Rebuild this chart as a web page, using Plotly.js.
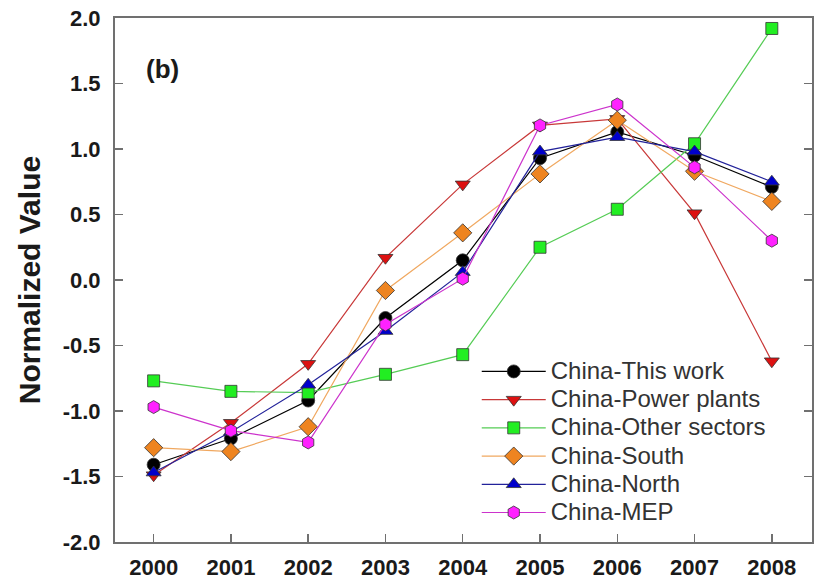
<!DOCTYPE html>
<html>
<head>
<meta charset="utf-8">
<script src="https://cdn.plot.ly/plotly-3.0.1.min.js"></script>
<style>html,body{margin:0;padding:0;background:#fff;}#chart{width:817px;height:581px;}</style>
</head>
<body>
<div id="chart"></div>
<script>
var years = [2000, 2001, 2002, 2003, 2004, 2005, 2006, 2007, 2008];
var yTicks = [-2.0, -1.5, -1.0, -0.5, 0.0, 0.5, 1.0, 1.5, 2.0];
var yTickText = ['-2.0', '-1.5', '-1.0', '-0.5', '0.0', '0.5', '1.0', '1.5', '2.0'];

var thisWork     = [-1.41, -1.21, -0.92, -0.29, 0.15, 0.93, 1.13, 0.95, 0.71];
var powerPlants  = [-1.49, -1.09, -0.64, 0.17, 0.73, 1.18, 1.23, 0.51, -0.62];
var otherSectors = [-0.77, -0.85, -0.86, -0.72, -0.57, 0.25, 0.54, 1.04, 1.92];
var south        = [-1.28, -1.31, -1.12, -0.08, 0.36, 0.81, 1.22, 0.83, 0.60];
var north        = [-1.47, -1.16, -0.80, -0.39, 0.06, 0.98, 1.09, 0.98, 0.75];
var mep          = [-0.97, -1.15, -1.24, -0.34, 0.01, 1.18, 1.34, 0.86, 0.30];

var seriesNames = ['China-This work', 'China-Power plants', 'China-Other sectors', 'China-South', 'China-North', 'China-MEP'];

function tr(name, y, lineColor, markerColor, symbol, size) {
  return {
    type: 'scatter', mode: 'lines+markers',
    name: '<span style="font-size:24px">' + name + '</span>', x: years, y: y,
    line: {color: lineColor, width: 1.2},
    marker: {symbol: symbol, size: size, color: markerColor, line: {color: '#333', width: 0.8}}
  };
}

var data = [
  tr(seriesNames[0], thisWork, '#000000', '#000000', 'circle', 13),
  tr(seriesNames[1], powerPlants, '#c83838', '#dd1111', 'triangle-down', 13),
  tr(seriesNames[2], otherSectors, '#55cc55', '#22ee22', 'square', 12),
  tr(seriesNames[3], south, '#f0a860', '#ee8420', 'diamond', 14),
  tr(seriesNames[4], north, '#22229a', '#0000cc', 'triangle-up', 13),
  tr(seriesNames[5], mep, '#cc33cc', '#ff22ff', 'hexagon', 13)
];

var fam = 'Liberation Sans, Arial, sans-serif';

var layout = {
  width: 817, height: 581,
  margin: {l: 115, r: 5, t: 18, b: 39, pad: 0},
  paper_bgcolor: '#fff', plot_bgcolor: '#fff',
  showlegend: true,
  legend: {
    x: 0.519, xref: 'paper', xanchor: 'left',
    y: 0.362, yref: 'paper', yanchor: 'top',
    bgcolor: 'rgba(0,0,0,0)', borderwidth: 0,
    itemwidth: 64,
    font: {family: fam, size: 19.4, color: '#333'},
    tracegroupgap: 0
  },
  xaxis: {
    range: [1999.5, 2008.52], tickmode: 'array', tickvals: years,
    ticktext: years.map(String),
    ticks: 'inside', ticklen: 8, tickwidth: 1.5, tickcolor: '#707070',
    showline: true, linecolor: '#707070', linewidth: 2, mirror: true,
    showgrid: false, zeroline: false,
    tickfont: {family: fam, size: 22, color: '#1a1a1a', weight: 'bold'},
    ticklabelstandoff: 5
  },
  yaxis: {
    range: [-2, 2], tickmode: 'array', tickvals: yTicks, ticktext: yTickText,
    ticks: 'inside', ticklen: 8, tickwidth: 1.5, tickcolor: '#707070',
    showline: true, linecolor: '#707070', linewidth: 2, mirror: 'ticks',
    showgrid: false, zeroline: false,
    tickfont: {family: fam, size: 22, color: '#1a1a1a', weight: 'bold'},
    ticklabelstandoff: 8
  },
  annotations: [
    {text: '<b>Normalized Value</b>', xref: 'paper', yref: 'paper', x: -0.123, y: 0.5,
     xanchor: 'center', yanchor: 'middle', textangle: -90, showarrow: false,
     font: {family: fam, size: 30, color: '#1a1a1a'}},
    {text: '<b>(b)</b>', xref: 'paper', yref: 'paper', x: 0.041, y: 0.902,
     xanchor: 'left', yanchor: 'middle', showarrow: false,
     font: {family: fam, size: 26, color: '#1a1a1a'}}
  ]
};

Plotly.newPlot('chart', data, layout, {displayModeBar: false, staticPlot: true});
</script>
</body>
</html>
